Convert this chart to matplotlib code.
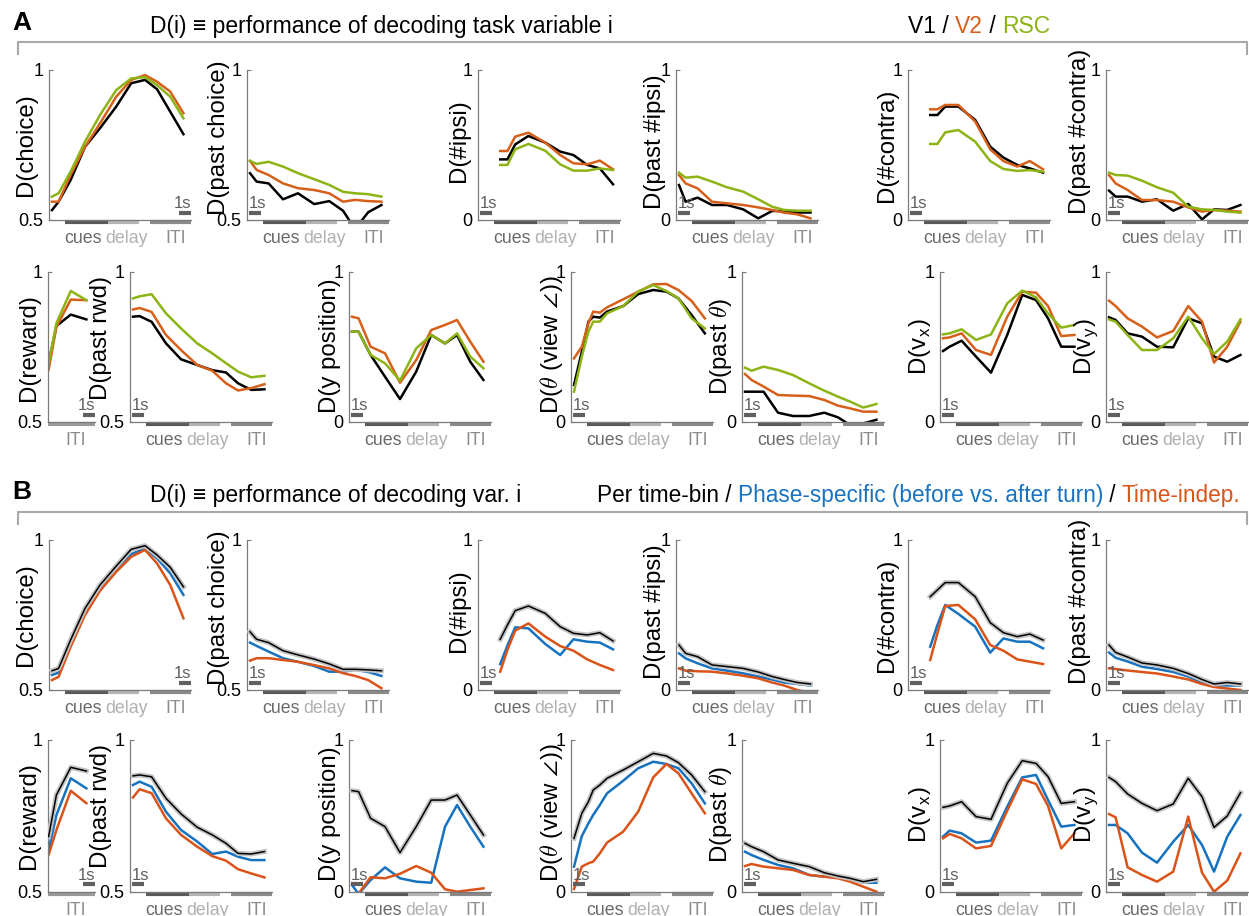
import matplotlib
matplotlib.use("Agg")
import matplotlib.patheffects as pe
from matplotlib import pyplot as plt

W, H = 1249, 916
plt.rcParams["font.family"] = ["Liberation Sans", "DejaVu Sans"]
plt.rcParams["mathtext.fontset"] = "cm"

# time bins (s)
t_trial = [0.25, 0.8, 1.8, 3.0, 4.25, 5.6, 6.85, 8.0, 9.0, 10.1, 11.2]
t_cue = [1.85, 2.45, 3.1, 4.2, 5.6, 6.85, 7.95, 9.1, 10.15, 11.25]
t_theta = [0.25, 0.9, 1.45, 1.85, 2.4, 3.0, 4.35, 5.6, 6.85, 7.95, 8.95, 10.05, 11.15]
t_rwd = [0.05, 0.7, 1.9, 3.2]
trial_len = 11.83
rwd_len = 3.92

phase_names = ["cues", "delay", "ITI"]
phase_start = [1.3, 4.9, 8.45]
phase_end = [4.9, 7.5, 11.83]

# ---- panel A: V1 / V2 / RSC ----
a_choice_v1 = [0.533, 0.561, 0.633, 0.744, 0.806, 0.878, 0.956, 0.967, 0.936, 0.861, 0.786]
a_choice_v2 = [0.561, 0.561, 0.65, 0.744, 0.822, 0.911, 0.967, 0.983, 0.961, 0.928, 0.856]
a_choice_rsc = [0.578, 0.589, 0.661, 0.761, 0.85, 0.933, 0.972, 0.976, 0.95, 0.911, 0.839]

a_pchoice_v1 = [0.656, 0.628, 0.622, 0.569, 0.589, 0.553, 0.563, 0.531, 0.47, 0.526, 0.55]
a_pchoice_v2 = [0.697, 0.667, 0.65, 0.622, 0.606, 0.6, 0.589, 0.561, 0.567, 0.563, 0.561]
a_pchoice_rsc = [0.697, 0.687, 0.694, 0.678, 0.656, 0.636, 0.617, 0.594, 0.589, 0.586, 0.578]

a_ipsi_v1 = [0.404, 0.404, 0.504, 0.56, 0.516, 0.456, 0.433, 0.367, 0.344, 0.238]
a_ipsi_v2 = [0.46, 0.46, 0.556, 0.582, 0.516, 0.433, 0.378, 0.371, 0.396, 0.338]
a_ipsi_rsc = [0.367, 0.367, 0.471, 0.507, 0.462, 0.371, 0.329, 0.329, 0.344, 0.333]

a_pipsi_v1 = [0.233, 0.122, 0.149, 0.1, 0.1, 0.071, 0.011, 0.06, 0.06, 0.05, 0.05]
a_pipsi_v2 = [0.3, 0.244, 0.211, 0.122, 0.111, 0.1, 0.084, 0.067, 0.049, 0.038, 0.011]
a_pipsi_rsc = [0.316, 0.282, 0.289, 0.256, 0.218, 0.189, 0.138, 0.089, 0.067, 0.062, 0.062]

a_contra_v1 = [0.7, 0.7, 0.756, 0.756, 0.667, 0.489, 0.416, 0.367, 0.344, 0.316]
a_contra_v2 = [0.738, 0.738, 0.767, 0.767, 0.656, 0.471, 0.393, 0.356, 0.393, 0.338]
a_contra_rsc = [0.507, 0.507, 0.584, 0.6, 0.522, 0.393, 0.34, 0.327, 0.333, 0.322]

a_pcontra_v1 = [0.196, 0.156, 0.156, 0.122, 0.138, 0.062, 0.107, 0.004, 0.071, 0.067, 0.1]
a_pcontra_v2 = [0.3, 0.244, 0.2, 0.133, 0.133, 0.122, 0.084, 0.056, 0.067, 0.062, 0.056]
a_pcontra_rsc = [0.316, 0.3, 0.296, 0.262, 0.218, 0.182, 0.089, 0.071, 0.067, 0.056, 0.049]

a_reward_v1 = [0.696, 0.82, 0.858, 0.842]
a_reward_v2 = [0.674, 0.817, 0.908, 0.906]
a_reward_rsc = [0.696, 0.829, 0.937, 0.906]

a_prwd_v1 = [0.851, 0.853, 0.834, 0.762, 0.709, 0.69, 0.673, 0.665, 0.629, 0.607, 0.609]
a_prwd_v2 = [0.875, 0.88, 0.867, 0.79, 0.74, 0.69, 0.671, 0.629, 0.605, 0.613, 0.626]
a_prwd_rsc = [0.912, 0.919, 0.926, 0.862, 0.812, 0.762, 0.729, 0.696, 0.668, 0.649, 0.654]

a_ypos_v1 = [0.602, 0.602, 0.447, 0.302, 0.153, 0.336, 0.58, 0.524, 0.58, 0.402, 0.28]
a_ypos_v2 = [0.702, 0.691, 0.502, 0.458, 0.262, 0.413, 0.613, 0.647, 0.68, 0.536, 0.402]
a_ypos_rsc = [0.602, 0.602, 0.447, 0.391, 0.276, 0.491, 0.58, 0.524, 0.591, 0.436, 0.358]

a_theta_v1 = [0.247, 0.469, 0.669, 0.702, 0.696, 0.736, 0.773, 0.853, 0.88, 0.869, 0.824, 0.713, 0.591]
a_theta_v2 = [0.424, 0.502, 0.658, 0.736, 0.729, 0.764, 0.818, 0.869, 0.918, 0.92, 0.88, 0.807, 0.691]
a_theta_rsc = [0.202, 0.436, 0.602, 0.669, 0.669, 0.724, 0.773, 0.869, 0.913, 0.873, 0.824, 0.691, 0.624]

a_ptheta_v1 = [0.202, 0.202, 0.202, 0.062, 0.04, 0.04, 0.062, 0.031, -0.02, -0.01, 0.015]
a_ptheta_v2 = [0.32, 0.28, 0.236, 0.18, 0.176, 0.173, 0.147, 0.109, 0.091, 0.069, 0.069]
a_ptheta_rsc = [0.362, 0.342, 0.369, 0.347, 0.313, 0.258, 0.209, 0.169, 0.136, 0.096, 0.12]

a_vx_v1 = [0.473, 0.502, 0.542, 0.436, 0.329, 0.58, 0.847, 0.813, 0.691, 0.502, 0.502]
a_vx_v2 = [0.558, 0.564, 0.591, 0.48, 0.447, 0.702, 0.869, 0.862, 0.773, 0.573, 0.58]
a_vx_rsc = [0.584, 0.591, 0.618, 0.547, 0.584, 0.791, 0.876, 0.831, 0.724, 0.629, 0.647]

a_vy_v1 = [0.698, 0.68, 0.591, 0.569, 0.502, 0.498, 0.691, 0.658, 0.436, 0.402, 0.447]
a_vy_v2 = [0.809, 0.773, 0.691, 0.636, 0.564, 0.607, 0.773, 0.669, 0.396, 0.502, 0.669]
a_vy_rsc = [0.684, 0.669, 0.58, 0.48, 0.48, 0.558, 0.702, 0.558, 0.453, 0.536, 0.684]

# ---- panel B: per time-bin / phase-specific / time-indep. ----
b_choice_bin = [0.564, 0.572, 0.667, 0.772, 0.85, 0.913, 0.969, 0.981, 0.95, 0.909, 0.844]
b_choice_phase = [0.55, 0.558, 0.658, 0.756, 0.839, 0.906, 0.953, 0.972, 0.939, 0.889, 0.817]
b_choice_indep = [0.533, 0.544, 0.644, 0.75, 0.831, 0.894, 0.944, 0.967, 0.922, 0.85, 0.739]

b_pchoice_bin = [0.694, 0.669, 0.658, 0.631, 0.617, 0.603, 0.587, 0.569, 0.569, 0.567, 0.564]
b_pchoice_phase = [0.658, 0.647, 0.628, 0.606, 0.594, 0.58, 0.561, 0.561, 0.567, 0.56, 0.547]
b_pchoice_indep = [0.598, 0.606, 0.606, 0.6, 0.594, 0.583, 0.572, 0.556, 0.547, 0.533, 0.506]

b_ipsi_bin = [0.338, 0.433, 0.529, 0.56, 0.511, 0.422, 0.378, 0.367, 0.382, 0.327]
b_ipsi_phase = [0.173, 0.296, 0.418, 0.411, 0.307, 0.233, 0.338, 0.322, 0.316, 0.271]
b_ipsi_indep = [0.122, 0.267, 0.396, 0.444, 0.356, 0.293, 0.262, 0.204, 0.167, 0.133]

b_pipsi_bin = [0.3, 0.244, 0.222, 0.167, 0.156, 0.144, 0.12, 0.09, 0.07, 0.05, 0.04]
b_pipsi_phase = [0.244, 0.211, 0.178, 0.144, 0.129, 0.111, 0.09, 0.07, 0.05, 0.04, 0.03]
b_pipsi_indep = [0.144, 0.129, 0.125, 0.122, 0.111, 0.095, 0.078, 0.05, 0.03, 0.0, -0.02]

b_contra_bin = [0.622, 0.667, 0.716, 0.716, 0.622, 0.449, 0.382, 0.356, 0.373, 0.333]
b_contra_phase = [0.289, 0.433, 0.567, 0.507, 0.422, 0.249, 0.344, 0.322, 0.322, 0.278]
b_contra_indep = [0.2, 0.378, 0.56, 0.567, 0.471, 0.3, 0.262, 0.204, 0.189, 0.173]

b_pcontra_bin = [0.3, 0.25, 0.22, 0.18, 0.167, 0.144, 0.11, 0.07, 0.04, 0.05, 0.04]
b_pcontra_phase = [0.25, 0.215, 0.19, 0.155, 0.14, 0.12, 0.09, 0.05, 0.03, 0.03, 0.03]
b_pcontra_indep = [0.145, 0.14, 0.13, 0.12, 0.11, 0.09, 0.07, 0.04, 0.02, 0.01, 0.0]

b_reward_bin = [0.682, 0.819, 0.91, 0.898]
b_reward_phase = [0.638, 0.753, 0.874, 0.841]
b_reward_indep = [0.622, 0.704, 0.833, 0.792]

b_prwd_bin = [0.882, 0.885, 0.879, 0.808, 0.757, 0.713, 0.688, 0.66, 0.627, 0.625, 0.633]
b_prwd_phase = [0.852, 0.863, 0.846, 0.764, 0.704, 0.666, 0.625, 0.633, 0.616, 0.605, 0.605]
b_prwd_indep = [0.811, 0.838, 0.825, 0.742, 0.688, 0.649, 0.618, 0.603, 0.575, 0.561, 0.548]

b_ypos_bin = [0.667, 0.66, 0.485, 0.43, 0.259, 0.43, 0.605, 0.605, 0.638, 0.507, 0.375]
b_ypos_phase = [0.046, -0.013, 0.079, 0.162, 0.09, 0.068, 0.061, 0.43, 0.572, 0.43, 0.298]
b_ypos_indep = [-0.05, -0.01, 0.097, 0.09, 0.12, 0.171, 0.127, 0.018, 0.002, 0.013, 0.024]

b_theta_bin = [0.353, 0.518, 0.594, 0.671, 0.704, 0.748, 0.803, 0.857, 0.912, 0.895, 0.851, 0.77, 0.66]
b_theta_phase = [0.167, 0.368, 0.452, 0.507, 0.572, 0.649, 0.732, 0.814, 0.857, 0.842, 0.814, 0.715, 0.583]
b_theta_indep = [0.02, 0.167, 0.189, 0.2, 0.254, 0.325, 0.397, 0.529, 0.754, 0.842, 0.781, 0.649, 0.518]

b_ptheta_bin = [0.32, 0.298, 0.265, 0.211, 0.189, 0.167, 0.127, 0.105, 0.09, 0.068, 0.083]
b_ptheta_phase = [0.265, 0.243, 0.211, 0.178, 0.156, 0.112, 0.101, 0.097, 0.083, 0.061, 0.061]
b_ptheta_indep = [0.171, 0.184, 0.167, 0.156, 0.145, 0.112, 0.101, 0.09, 0.068, 0.035, 0.002]

b_vx_bin = [0.557, 0.566, 0.594, 0.496, 0.478, 0.715, 0.864, 0.846, 0.759, 0.583, 0.594]
b_vx_phase = [0.364, 0.404, 0.386, 0.325, 0.338, 0.561, 0.754, 0.77, 0.605, 0.43, 0.441]
b_vx_indep = [0.353, 0.382, 0.353, 0.287, 0.303, 0.535, 0.741, 0.711, 0.566, 0.287, 0.386]

b_vy_bin = [0.754, 0.726, 0.645, 0.583, 0.535, 0.579, 0.748, 0.627, 0.425, 0.5, 0.653]
b_vy_phase = [0.441, 0.441, 0.386, 0.259, 0.193, 0.331, 0.441, 0.309, 0.134, 0.364, 0.507]
b_vy_indep = [0.513, 0.491, 0.162, 0.112, 0.068, 0.134, 0.496, 0.127, 0.002, 0.075, 0.254]

labels_row1 = ["D(choice)", "D(past choice)", "D(#ipsi)", "D(past #ipsi)",
               "D(#contra)", "D(past #contra)"]
labels_row2 = ["D(reward)", "D(past rwd)", "D(y position)", r"D($\theta$ (view $\angle$))",
               r"D(past $\theta$)", r"D(v$_\mathregular{x}$)", r"D(v$_\mathregular{y}$)"]
ymin_row1 = [0.5, 0.5, 0, 0, 0, 0]
ymin_row2 = [0.5, 0.5, 0, 0, 0, 0, 0]
time_row1 = [t_trial, t_trial, t_cue, t_trial, t_cue, t_trial]
time_row2 = [t_rwd, t_trial, t_trial, t_theta, t_trial, t_trial, t_trial]

a_row1 = [(a_choice_v1, a_choice_v2, a_choice_rsc), (a_pchoice_v1, a_pchoice_v2, a_pchoice_rsc),
          (a_ipsi_v1, a_ipsi_v2, a_ipsi_rsc), (a_pipsi_v1, a_pipsi_v2, a_pipsi_rsc),
          (a_contra_v1, a_contra_v2, a_contra_rsc), (a_pcontra_v1, a_pcontra_v2, a_pcontra_rsc)]
a_row2 = [(a_reward_v1, a_reward_v2, a_reward_rsc), (a_prwd_v1, a_prwd_v2, a_prwd_rsc),
          (a_ypos_v1, a_ypos_v2, a_ypos_rsc), (a_theta_v1, a_theta_v2, a_theta_rsc),
          (a_ptheta_v1, a_ptheta_v2, a_ptheta_rsc), (a_vx_v1, a_vx_v2, a_vx_rsc),
          (a_vy_v1, a_vy_v2, a_vy_rsc)]
b_row1 = [(b_choice_bin, b_choice_phase, b_choice_indep), (b_pchoice_bin, b_pchoice_phase, b_pchoice_indep),
          (b_ipsi_bin, b_ipsi_phase, b_ipsi_indep), (b_pipsi_bin, b_pipsi_phase, b_pipsi_indep),
          (b_contra_bin, b_contra_phase, b_contra_indep), (b_pcontra_bin, b_pcontra_phase, b_pcontra_indep)]
b_row2 = [(b_reward_bin, b_reward_phase, b_reward_indep), (b_prwd_bin, b_prwd_phase, b_prwd_indep),
          (b_ypos_bin, b_ypos_phase, b_ypos_indep), (b_theta_bin, b_theta_phase, b_theta_indep),
          (b_ptheta_bin, b_ptheta_phase, b_ptheta_indep), (b_vx_bin, b_vx_phase, b_vx_indep),
          (b_vy_bin, b_vy_phase, b_vy_indep)]

colors_a = ["black", "#D6601A", "#8CB414"]
colors_b = ["black", "#1772C0", "#DA5318"]

# layout in pixels
cols_row1 = [(49, 191), (247, 389), (478, 620), (676, 818), (908, 1050), (1106, 1248)]
cols_row2 = [(48, 95), (130, 272), (349, 491), (571, 713), (742, 884), (940, 1082), (1106, 1248)]
lab_dx_row1 = [-23, -28.5, -19.5, -20.5, -21.5, -26]
lab_dy_row1 = [75, 67.5, 71, 72, 75, 61]
lab_dx_row2 = [-19, -29, -19, -19.5, -21, -20, -19.5]
lab_dy_row2 = [75.5, 65.5, 73.5, 73, 74.5, 75, 75]

bar_cols = ["#5a5a5a", "#b4b4b4", "#8a8a8a"]
txt_cols = ["#6a6a6a", "#b0b0b0", "#8c8c8c"]
spine_col = "#7a7a7a"

fig = plt.figure(figsize=(W / 100, H / 100), dpi=100)


def draw_panel(x0, x1, y0, y1, label, ymin, t, series, colors, thin_black,
               dx, dy, reward):
    ax = fig.add_axes([x0 / W, 1 - y1 / H, (x1 - x0) / W, (y1 - y0) / H])
    ax.patch.set_visible(False)
    xmax = rwd_len if reward else trial_len
    ax.set_xlim(0, xmax)
    ax.set_ylim(ymin, 1)
    for vals, c in zip(series, colors):
        if thin_black and c == "black":
            ax.plot(t, vals, color=c, lw=1.1, zorder=3,
                    path_effects=[pe.Stroke(linewidth=3.6, foreground="#c4c4c4"), pe.Normal()])
        else:
            ax.plot(t, vals, color=c, lw=1.8, zorder=2)
    for s in ("top", "right"):
        ax.spines[s].set_visible(False)
    for s in ("left", "bottom"):
        ax.spines[s].set_color(spine_col)
        ax.spines[s].set_linewidth(0.9)
    ax.set_xticks([])
    ax.set_yticks([ymin, 1])
    ax.set_yticklabels(["0.5" if ymin == 0.5 else "0", "1"], fontsize=13)
    ax.tick_params(axis="y", direction="in", length=3, color=spine_col, pad=4)

    trans = ax.get_xaxis_transform()
    w_px = x1 - x0
    s_per_px = xmax / w_px
    if reward:
        ax.plot([0, xmax], [-0.013, -0.013], transform=trans, color="#9a9a9a", lw=3,
                solid_capstyle="butt", clip_on=False)
        ax.text(xmax / 2 + 4 * s_per_px, -0.153, "ITI", transform=trans, ha="center",
                va="baseline", color=txt_cols[2], fontsize=12.8)
    else:
        for k, name in enumerate(phase_names):
            ax.plot([phase_start[k], phase_end[k]], [-0.013, -0.013], transform=trans,
                    color=bar_cols[k], lw=3, solid_capstyle="butt", clip_on=False)
        ax.text(phase_end[0] - 6 * s_per_px, -0.153, "cues", transform=trans, ha="right",
                va="baseline", color=txt_cols[0], fontsize=12.8)
        ax.text(phase_start[1] - 2.5 * s_per_px, -0.153, "delay", transform=trans, ha="left",
                va="baseline", color=txt_cols[1], fontsize=12.8)
        ax.text((phase_start[2] + phase_end[2]) / 2 + 5 * s_per_px, -0.153, "ITI",
                transform=trans, ha="center", va="baseline", color=txt_cols[2], fontsize=12.8)

    # 1 s scale bar
    right = reward or label == "D(choice)"
    if right:
        bx = [xmax - 1.0, xmax]
        tx, ha = xmax, "right"
    else:
        bx = [0.2, 1.2]
        tx, ha = 0.12, "left"
    ax.plot(bx, [0.05, 0.05], transform=trans, color="#5f5f5f", lw=3,
            solid_capstyle="butt", clip_on=False)
    ax.text(tx, 0.08, "1s", transform=trans, ha=ha, va="baseline", color="#5f5f5f",
            fontsize=12)

    ax.text(dx / w_px, 1 - dy / (y1 - y0), label, transform=ax.transAxes, rotation=90,
            ha="center", va="center", fontsize=17.3)
    return ax


def draw_block(rows_y, row1, row2, colors, thin_black):
    (r1a, r1b), (r2a, r2b) = rows_y
    for i, (xa, xb) in enumerate(cols_row1):
        draw_panel(xa, xb, r1a, r1b, labels_row1[i], ymin_row1[i], time_row1[i], row1[i],
                   colors, thin_black, lab_dx_row1[i], lab_dy_row1[i], False)
    for i, (xa, xb) in enumerate(cols_row2):
        draw_panel(xa, xb, r2a, r2b, labels_row2[i], ymin_row2[i], time_row2[i], row2[i],
                   colors, thin_black, lab_dx_row2[i], lab_dy_row2[i], i == 0)


draw_block(((70, 220), (272, 422)), a_row1, a_row2, colors_a, False)
draw_block(((540, 690), (740, 892)), b_row1, b_row2, colors_b, True)


def bracket(y_top, y_end):
    xs = [18, 18, 1247, 1247]
    ys = [y_end, y_top, y_top, y_end]
    fig.add_artist(plt.Line2D([x / W for x in xs], [1 - y / H for y in ys],
                              color="#a8a8a8", lw=1.5))


bracket(42, 54)
bracket(512, 524)

renderer = fig.canvas.get_renderer()


def rich_text(x_px, y_px, parts, size):
    probe = fig.text(0, 0, "|", fontsize=size)
    bar_w = probe.get_window_extent(renderer).width
    probe.remove()
    x = x_px
    for s, c in parts:
        fig.text(x / W, 1 - y_px / H, s, color=c, fontsize=size, ha="left", va="baseline")
        probe = fig.text(0, 0, s + "|", fontsize=size)
        x += probe.get_window_extent(renderer).width - bar_w
        probe.remove()


fig.text(12 / W, 1 - 30 / H, "A", fontsize=19, fontweight="bold", va="baseline")
fig.text(12 / W, 1 - 499 / H, "B", fontsize=19, fontweight="bold", va="baseline")

fig.text(150 / W, 1 - 33 / H, "D(i) \u2261 performance of decoding task variable i",
         fontsize=16.5, va="baseline")
fig.text(150 / W, 1 - 502 / H, "D(i) \u2261 performance of decoding var. i",
         fontsize=16.5, va="baseline")

rich_text(908, 33, [("V1 / ", "black"), ("V2", colors_a[1]), (" / ", "black"),
                    ("RSC", colors_a[2])], 16.5)
rich_text(597, 502, [("Per time-bin / ", "black"),
                     ("Phase-specific (before vs. after turn)", colors_b[1]),
                     (" / ", "black"), ("Time-indep.", colors_b[2])], 16.3)

fig.savefig("out.png", dpi=100)
